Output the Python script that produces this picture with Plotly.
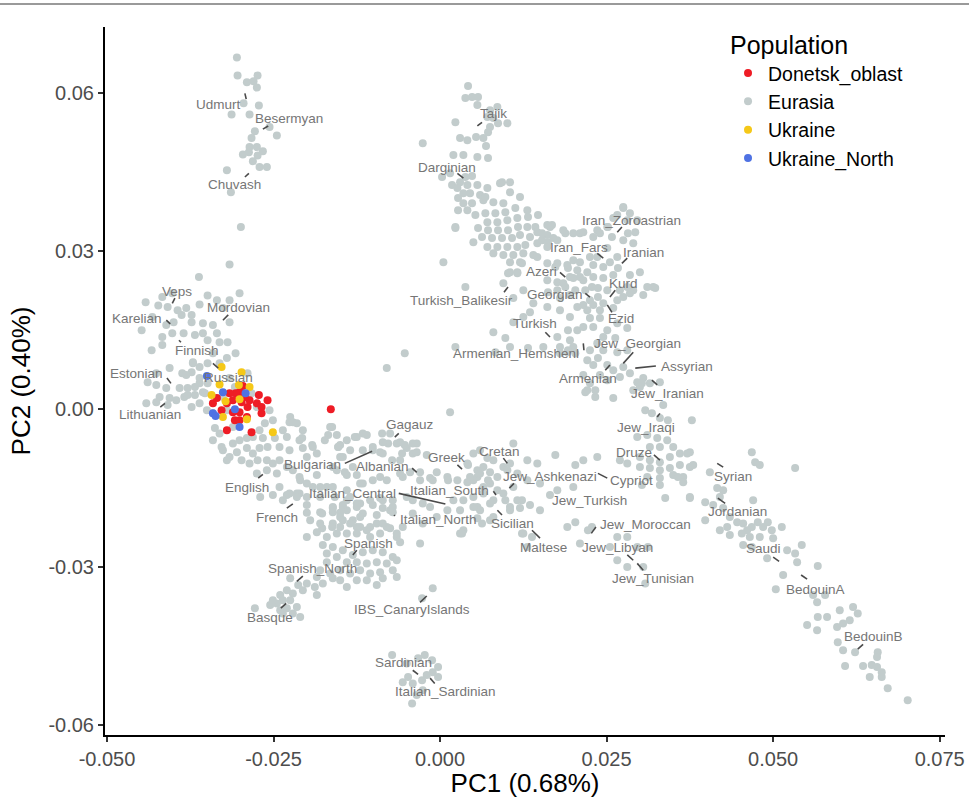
import plotly.graph_objects as go

# ---------------- data (PC1, PC2) ----------------
volga_uralic = [(-0.0305,0.0668),(-0.0304,0.0634),(-0.0290,0.0621),(-0.0280,0.0623),(-0.0274,0.0634),(-0.0275,0.0611),
    (-0.0295,0.0581),(-0.0313,0.0560),(-0.0286,0.0560),(-0.0272,0.0577),(-0.0278,0.0528),(-0.0256,0.0536),(-0.0245,0.0520),
    (-0.0283,0.0515),(-0.0286,0.0498),(-0.0275,0.0498),(-0.0266,0.0490),(-0.0296,0.0484),(-0.0287,0.0488),(-0.0274,0.0482),
    (-0.0281,0.0471),(-0.0271,0.0460),(-0.0260,0.0460),(-0.0320,0.0454),(-0.0314,0.0412),(-0.0299,0.0346),(-0.0316,0.0275),
    (-0.0362,0.0251)]

northeast_europe = [(-0.0442,0.0203),(-0.0423,0.0197),(-0.0417,0.0213),(-0.0402,0.0220),(-0.0409,0.0194),(-0.0394,0.0188),
    (-0.0381,0.0192),(-0.0373,0.0179),(-0.0361,0.0199),(-0.0349,0.0216),(-0.0335,0.0207),(-0.0326,0.0192),(-0.0301,0.0220),
    (-0.0316,0.0207),(-0.0432,0.0175),(-0.0411,0.0160),(-0.0400,0.0165),(-0.0388,0.0179),(-0.0373,0.0165),(-0.0356,0.0163),
    (-0.0341,0.0160),(-0.0316,0.0165),(-0.0448,0.0150),(-0.0433,0.0112),(-0.0417,0.0137),(-0.0417,0.0122),(-0.0402,0.0144),
    (-0.0385,0.0144),(-0.0368,0.0141),(-0.0356,0.0144),(-0.0349,0.0131),(-0.0335,0.0144),(-0.0331,0.0127),(-0.0319,0.0127),
    (-0.0307,0.0106),(-0.0320,0.0097),(-0.0341,0.0106),(-0.0371,0.0089),(-0.0361,0.0080),(-0.0373,0.0070),(-0.0387,0.0068),
    (-0.0406,0.0078),(-0.0426,0.0068),(-0.0439,0.0051),(-0.0426,0.0046),(-0.0411,0.0040),(-0.0391,0.0040),(-0.0379,0.0040),
    (-0.0361,0.0059),(-0.0349,0.0049),(-0.0356,0.0032),(-0.0368,0.0027),(-0.0421,0.0023),(-0.0406,0.0021),(-0.0396,0.0017),
    (-0.0384,0.0023),(-0.0441,0.0011),(-0.0426,0.0013),(-0.0409,0.0008),(-0.0349,0.0087),(-0.0331,0.0087)]

scattered = [(-0.0080,0.0078),(-0.0053,0.0106),(0.0005,0.0279),(0.0023,0.0344),(0.0038,0.0232),(0.0023,0.0118),(0.0015,-0.0006)]

east_central_europe = [(-0.0371,0.0087),(-0.0381,0.0065),(-0.0368,0.0042),(-0.0361,0.0049),(-0.0353,0.0030),(-0.0379,0.0027),
    (-0.0361,0.0011),(-0.0373,0.0004),(-0.0350,-0.0002),(-0.0341,-0.0008),(-0.0320,-0.0002),(-0.0326,0.0023),(-0.0308,0.0042),
    (-0.0316,0.0059),(-0.0289,0.0068),(-0.0283,0.0030),(-0.0275,0.0004),(-0.0256,-0.0002),(-0.0251,-0.0021),(-0.0263,-0.0027),
    (-0.0271,-0.0040),(-0.0281,-0.0053),(-0.0290,-0.0055),(-0.0311,-0.0034),(-0.0331,-0.0046),(-0.0338,-0.0036),(-0.0326,-0.0078),
    (-0.0311,-0.0065),(-0.0301,-0.0059),(-0.0266,-0.0055),(-0.0259,-0.0072),(-0.0248,-0.0055),(-0.0236,-0.0040),(-0.0226,-0.0025),
    (-0.0215,-0.0027),(-0.0230,-0.0053),(-0.0241,-0.0072),(-0.0226,-0.0078),(-0.0211,-0.0059),(-0.0206,-0.0074),(-0.0191,-0.0072),
    (-0.0200,-0.0091),(-0.0185,-0.0084),(-0.0168,-0.0049),(-0.0162,-0.0034),(-0.0153,-0.0072),(-0.0146,-0.0091),(-0.0316,-0.0091),
    (-0.0305,-0.0082),(-0.0290,-0.0074),(-0.0281,-0.0084),(-0.0271,-0.0074),(-0.0298,-0.0097),(-0.0286,-0.0103),(-0.0274,-0.0097),
    (-0.0260,-0.0097),(-0.0251,-0.0103),(-0.0241,-0.0097),(-0.0230,-0.0110),(-0.0245,-0.0122),(-0.0221,-0.0116),(-0.0211,-0.0129),
    (-0.0200,-0.0141),(-0.0241,-0.0148),(-0.0226,-0.0160),(-0.0211,-0.0160),(-0.0191,-0.0148),(-0.0180,-0.0167),(-0.0260,-0.0116),
    (-0.0275,-0.0122),(-0.0320,-0.0097),(-0.0328,-0.0072),(-0.0341,-0.0059),(-0.0161,-0.0186),(-0.0150,-0.0197),(-0.0180,-0.0196),
    (-0.0200,-0.0197),(-0.0140,-0.0173),(-0.0158,-0.0167),(-0.0170,-0.0148)]

balkans_italy = [(-0.0128,-0.0053),(-0.0116,-0.0046),(-0.0087,-0.0046),(-0.0078,-0.0065),(-0.0086,-0.0084),(-0.0060,-0.0063),
    (-0.0050,-0.0074),(-0.0035,-0.0065),(-0.0041,-0.0084),(-0.0020,-0.0087),(-0.0057,-0.0084),(-0.0072,-0.0097),(-0.0101,-0.0078),
    (-0.0135,-0.0078),(-0.0150,-0.0068),(-0.0150,-0.0091),(-0.0143,-0.0120),(-0.0155,-0.0116),(-0.0125,-0.0125),(-0.0116,-0.0141),
    (-0.0090,-0.0129),(-0.0056,-0.0129),(-0.0045,-0.0120),(-0.0030,-0.0120),(-0.0015,-0.0131),(-0.0005,-0.0120),(0.0011,-0.0129),
    (0.0026,-0.0135),(0.0041,-0.0139),(0.0056,-0.0129),(0.0065,-0.0110),(0.0071,-0.0093),(0.0060,-0.0078),(0.0050,-0.0084),
    (0.0042,-0.0106),(0.0056,-0.0116),(0.0075,-0.0120),(0.0086,-0.0129),(0.0095,-0.0110),(0.0110,-0.0065),(0.0105,-0.0103),
    (0.0116,-0.0122),(0.0131,-0.0097),(0.0075,-0.0141),(0.0065,-0.0160),(0.0050,-0.0167),(0.0035,-0.0173),(0.0020,-0.0173),
    (0.0011,-0.0192),(-0.0015,-0.0186),(-0.0026,-0.0179),(-0.0041,-0.0173),(-0.0050,-0.0167),(-0.0071,-0.0173),(-0.0090,-0.0169),
    (-0.0105,-0.0173),(-0.0120,-0.0179),(-0.0135,-0.0167),(-0.0146,-0.0186),(-0.0116,-0.0198),(-0.0075,-0.0192),(-0.0041,-0.0198),
    (-0.0005,-0.0205),(0.0030,-0.0192),(0.0056,-0.0186),(0.0080,-0.0173),(0.0095,-0.0160),(0.0105,-0.0186),(0.0123,-0.0173),
    (0.0056,-0.0207),(0.0075,-0.0211),(0.0035,-0.0230),(-0.0030,-0.0255),(-0.0065,-0.0243),(-0.0080,-0.0224),(-0.0095,-0.0217),
    (-0.0110,-0.0230),(-0.0125,-0.0224),(0.0123,-0.0236),(0.0131,-0.0262),(0.0065,-0.0148),
    (-0.0225,-0.0015),(-0.0221,-0.0025),(-0.0206,-0.0040),(-0.0207,-0.0055),(-0.0192,-0.0068),(-0.0173,-0.0059),(-0.0165,-0.0034),
    (-0.0155,-0.0049),(-0.0153,-0.0072),(-0.0140,-0.0059),(-0.0125,-0.0053),(-0.0110,-0.0049),(-0.0116,-0.0078),(-0.0101,-0.0072),
    (-0.0086,-0.0063),(-0.0090,-0.0082),(-0.0075,-0.0046),(-0.0065,-0.0065),(-0.0053,-0.0068),(-0.0041,-0.0065),(-0.0035,-0.0082),
    (-0.0060,-0.0097),(-0.0131,-0.0110),(-0.0140,-0.0125),(-0.0161,-0.0110),(-0.0185,-0.0125),(-0.0210,-0.0135),(-0.0215,-0.0160),
    (-0.0230,-0.0163),(-0.0200,-0.0167),(-0.0180,-0.0148),(-0.0161,-0.0148),(-0.0140,-0.0154),(-0.0120,-0.0141),(-0.0101,-0.0135),
    (-0.0080,-0.0135),(-0.0060,-0.0122),(-0.0030,-0.0135),(-0.0011,-0.0135),(0.0012,-0.0135),(-0.0086,-0.0173),(-0.0125,-0.0179),
    (-0.0140,-0.0192),(-0.0161,-0.0196),(-0.0195,-0.0211),(-0.0177,-0.0226),(-0.0161,-0.0217),(-0.0146,-0.0211),(-0.0131,-0.0211),
    (-0.0120,-0.0224),(-0.0071,-0.0196),(-0.0056,-0.0224),(0.0030,-0.0236),(-0.0026,-0.0217)]

iberia = [(-0.0270,-0.0167),(-0.0251,-0.0163),(-0.0236,-0.0173),(-0.0215,-0.0167),(-0.0200,-0.0182),(-0.0177,-0.0198),
    (-0.0161,-0.0188),(-0.0146,-0.0182),(-0.0125,-0.0186),(-0.0101,-0.0182),(-0.0086,-0.0188),(-0.0071,-0.0186),(-0.0095,-0.0201),
    (-0.0120,-0.0205),(-0.0150,-0.0205),(-0.0180,-0.0217),(-0.0185,-0.0234),(-0.0200,-0.0243),(-0.0162,-0.0224),(-0.0150,-0.0224),
    (-0.0135,-0.0217),(-0.0105,-0.0224),(-0.0086,-0.0217),(-0.0075,-0.0226),(-0.0065,-0.0236),(-0.0060,-0.0253),(-0.0090,-0.0236),
    (-0.0105,-0.0243),(-0.0125,-0.0236),(-0.0140,-0.0236),(-0.0155,-0.0236),(-0.0170,-0.0243),(-0.0176,-0.0258),(-0.0161,-0.0262),
    (-0.0146,-0.0268),(-0.0131,-0.0277),(-0.0116,-0.0272),(-0.0101,-0.0268),(-0.0086,-0.0272),(-0.0071,-0.0281),(-0.0080,-0.0293),
    (-0.0095,-0.0291),(-0.0110,-0.0293),(-0.0125,-0.0291),(-0.0140,-0.0291),(-0.0155,-0.0281),(-0.0170,-0.0274),(-0.0170,-0.0291),
    (-0.0180,-0.0306),(-0.0165,-0.0312),(-0.0150,-0.0306),(-0.0135,-0.0312),(-0.0120,-0.0306),(-0.0105,-0.0312),(-0.0090,-0.0310),
    (-0.0071,-0.0306),(-0.0065,-0.0319),(-0.0086,-0.0321),(-0.0095,-0.0334),(-0.0110,-0.0325),(-0.0125,-0.0325),(-0.0140,-0.0338),
    (-0.0150,-0.0325),(-0.0161,-0.0321),(-0.0185,-0.0319),(-0.0188,-0.0338),(-0.0185,-0.0353),(-0.0176,-0.0331),(-0.0200,-0.0331),
    (-0.0206,-0.0344),(-0.0213,-0.0334),(-0.0225,-0.0321),(-0.0230,-0.0344),(-0.0221,-0.0350),(-0.0240,-0.0353),(-0.0236,-0.0363),
    (-0.0245,-0.0369),(-0.0225,-0.0363),(-0.0215,-0.0376),(-0.0221,-0.0388),(-0.0230,-0.0378),(-0.0240,-0.0382),(-0.0251,-0.0363),
    (-0.0255,-0.0372),(-0.0278,-0.0378),(-0.0210,-0.0395),(-0.0236,-0.0388),(-0.0011,-0.0340),(-0.0027,-0.0359),(-0.0065,-0.0287)]

sardinia = [(-0.0072,-0.0467),(-0.0050,-0.0483),(-0.0033,-0.0473),(-0.0023,-0.0467),(-0.0012,-0.0477),(-0.0003,-0.0490),
    (-0.0011,-0.0500),(-0.0020,-0.0505),(-0.0027,-0.0515),(-0.0041,-0.0521),(-0.0056,-0.0519),(-0.0048,-0.0509),(-0.0026,-0.0534),
    (-0.0035,-0.0543),(-0.0042,-0.0559),(-0.0003,-0.0509)]

caucasus_central_asia = [(0.0042,0.0614),(0.0038,0.0591),(0.0048,0.0593),(0.0057,0.0593),(0.0056,0.0578),(0.0086,0.0574),
    (0.0075,0.0568),(0.0071,0.0555),(0.0080,0.0553),(0.0087,0.0543),(0.0101,0.0543),(0.0075,0.0536),(0.0072,0.0526),(0.0023,0.0545),
    (0.0030,0.0515),(0.0041,0.0511),(0.0054,0.0517),(0.0065,0.0515),(0.0069,0.0500),(0.0056,0.0479),(0.0072,0.0477),(-0.0026,0.0505),
    (0.0020,0.0483),(0.0035,0.0483),(0.0003,0.0441),(0.0015,0.0448),(0.0038,0.0441),(0.0048,0.0443),(0.0030,0.0431),(0.0018,0.0426),
    (0.0026,0.0420),(0.0041,0.0426),(0.0056,0.0426),(0.0071,0.0420),(0.0035,0.0410),(0.0045,0.0410),(0.0060,0.0407),(0.0093,0.0431),
    (0.0105,0.0431),(0.0105,0.0412),(0.0120,0.0403),(0.0027,0.0401),(0.0035,0.0391),(0.0048,0.0391),(0.0065,0.0397),(0.0080,0.0393),
    (0.0095,0.0391),(0.0027,0.0378),(0.0041,0.0378),(0.0053,0.0369),(0.0068,0.0372),(0.0083,0.0372),(0.0098,0.0374),(0.0113,0.0382),
    (0.0131,0.0378),(0.0071,0.0355),(0.0086,0.0355),(0.0101,0.0359),(0.0116,0.0363),(0.0132,0.0365),(0.0147,0.0369),(0.0057,0.0344),
    (0.0072,0.0340),(0.0087,0.0340),(0.0102,0.0340),(0.0117,0.0346),(0.0131,0.0346),(0.0143,0.0346),(0.0063,0.0327),(0.0078,0.0325),
    (0.0093,0.0325),(0.0108,0.0325),(0.0120,0.0331),(0.0135,0.0327),(0.0146,0.0336),(0.0161,0.0331),(0.0168,0.0350),(0.0071,0.0308),
    (0.0086,0.0308),(0.0101,0.0308),(0.0116,0.0308),(0.0128,0.0312),(0.0146,0.0315),(0.0162,0.0317),(0.0080,0.0296),(0.0095,0.0293),
    (0.0110,0.0293),(0.0125,0.0296),(0.0140,0.0293),(0.0105,0.0279),(0.0120,0.0279),(0.0050,0.0317),(0.0023,0.0346),(0.0105,0.0260),
    (0.0116,0.0260),(0.0095,0.0239),(0.0176,0.0277),(0.0090,0.0429),(0.0068,0.0403),(0.0165,0.0346),(0.0153,0.0321),(0.0161,0.0308),
    (0.0176,0.0321),(0.0188,0.0334),(0.0210,0.0334),(0.0236,0.0340),(0.0251,0.0346),(0.0260,0.0363),(0.0275,0.0384),(0.0285,0.0372),
    (0.0296,0.0359),(0.0282,0.0334)]

iran_anatolia = [(0.0275,0.0382),(0.0266,0.0369),(0.0281,0.0359),(0.0293,0.0336),(0.0252,0.0346),(0.0240,0.0334),(0.0258,0.0327),
    (0.0275,0.0321),(0.0290,0.0315),(0.0161,0.0350),(0.0153,0.0334),(0.0170,0.0325),(0.0185,0.0340),(0.0200,0.0334),(0.0215,0.0336),
    (0.0230,0.0327),(0.0251,0.0306),(0.0266,0.0289),(0.0255,0.0279),(0.0267,0.0268),(0.0245,0.0270),(0.0230,0.0274),(0.0221,0.0260),
    (0.0206,0.0264),(0.0192,0.0268),(0.0210,0.0279),(0.0225,0.0289),(0.0236,0.0289),(0.0200,0.0249),(0.0215,0.0245),(0.0230,0.0251),
    (0.0245,0.0249),(0.0260,0.0255),(0.0285,0.0255),(0.0300,0.0260),(0.0311,0.0232),(0.0323,0.0230),(0.0290,0.0226),(0.0281,0.0232),
    (0.0270,0.0226),(0.0251,0.0226),(0.0237,0.0230),(0.0228,0.0232),(0.0218,0.0226),(0.0203,0.0226),(0.0188,0.0232),(0.0176,0.0241),
    (0.0161,0.0245),(0.0237,0.0213),(0.0225,0.0207),(0.0215,0.0198),(0.0230,0.0198),(0.0245,0.0201),(0.0266,0.0207),(0.0275,0.0213),
    (0.0285,0.0220),(0.0260,0.0192),(0.0240,0.0188),(0.0221,0.0188),(0.0225,0.0173),(0.0240,0.0173),(0.0230,0.0156),(0.0251,0.0150),
    (0.0266,0.0163),(0.0281,0.0154),(0.0245,0.0137),(0.0263,0.0135),(0.0236,0.0125),(0.0206,0.0150),(0.0215,0.0156),(0.0195,0.0131),
    (0.0180,0.0118),(0.0191,0.0108),(0.0200,0.0118),(0.0225,0.0112),(0.0245,0.0112),(0.0266,0.0108),(0.0281,0.0112),(0.0237,0.0097),
    (0.0230,0.0084),(0.0251,0.0084),(0.0260,0.0074),(0.0275,0.0080),(0.0285,0.0068),(0.0270,0.0061),(0.0251,0.0055),(0.0240,0.0065),
    (0.0296,0.0051),(0.0305,0.0059),(0.0315,0.0049),(0.0330,0.0051),(0.0221,0.0036),(0.0233,0.0023),(0.0260,0.0021),(0.0300,0.0042),
    (0.0192,0.0112),(0.0162,0.0222),(0.0180,0.0211),(0.0195,0.0217),(0.0305,0.0217),(0.0320,0.0232),
    (0.0080,0.0146),(0.0098,0.0135),(0.0110,0.0165),(0.0135,0.0184),(0.0125,0.0175),(0.0195,0.0175),(0.0192,0.0150),(0.0083,0.0108),
    (0.0105,0.0118),(0.0132,0.0116),(0.0155,0.0118),(0.0176,0.0137),(0.0180,0.0106),(0.0203,0.0106),(0.0221,0.0093),(0.0215,0.0065),
    (0.0225,0.0049),(0.0102,0.0258),(0.0116,0.0258),(0.0123,0.0277),(0.0146,0.0289),(0.0161,0.0277),(0.0173,0.0270),(0.0191,0.0274),
    (0.0200,0.0283),(0.0210,0.0251),(0.0195,0.0251),(0.0185,0.0239),(0.0176,0.0226),(0.0125,0.0226),(0.0110,0.0211),(0.0140,0.0201),
    (0.0161,0.0194),(0.0180,0.0188),(0.0206,0.0194)]

levant_mediterranean = [(0.0218,0.0032),(0.0233,0.0036),(0.0290,0.0036),(0.0303,0.0049),(0.0335,0.0008),(0.0308,-0.0002),
    (0.0318,-0.0008),(0.0330,-0.0017),(0.0342,-0.0021),(0.0378,-0.0021),(0.0296,-0.0053),(0.0311,-0.0049),(0.0326,-0.0055),
    (0.0341,-0.0059),(0.0350,-0.0072),(0.0330,-0.0072),(0.0315,-0.0072),(0.0300,-0.0091),(0.0315,-0.0097),(0.0330,-0.0101),
    (0.0345,-0.0091),(0.0360,-0.0084),(0.0375,-0.0082),(0.0300,-0.0110),(0.0315,-0.0112),(0.0330,-0.0116),(0.0345,-0.0112),
    (0.0360,-0.0106),(0.0375,-0.0110),(0.0311,-0.0129),(0.0330,-0.0131),(0.0350,-0.0125),(0.0365,-0.0129),(0.0330,-0.0144),
    (0.0303,-0.0144),(0.0338,-0.0169),(0.0375,-0.0169),(0.0281,-0.0103),(0.0270,-0.0097),(0.0236,-0.0091),(0.0215,-0.0097),
    (0.0203,-0.0106),(0.0173,-0.0087),(0.0146,-0.0103),(0.0080,-0.0097),(0.0101,-0.0116),(0.0060,-0.0122),(0.0050,-0.0135),
    (0.0072,-0.0135),(0.0086,-0.0154),(0.0110,-0.0148),(0.0131,-0.0135),(0.0150,-0.0141),(0.0176,-0.0154),(0.0200,-0.0148),
    (0.0165,-0.0163),(0.0116,-0.0173),(0.0098,-0.0173),(0.0075,-0.0179),(0.0060,-0.0192),(0.0050,-0.0186),(0.0105,-0.0192),
    (0.0120,-0.0188),(0.0135,-0.0182),(0.0150,-0.0192),(0.0080,-0.0205),(0.0063,-0.0217),(0.0033,-0.0236),(0.0125,-0.0236),
    (0.0138,-0.0243),(0.0191,-0.0224),(0.0203,-0.0215),(0.0222,-0.0230),(0.0228,-0.0224),(0.0266,-0.0243),(0.0281,-0.0243),
    (0.0210,-0.0255),(0.0255,-0.0262),(0.0296,-0.0262),(0.0312,-0.0262),(0.0266,-0.0287),(0.0281,-0.0300),(0.0305,-0.0300),
    (0.0308,-0.0331),(0.0045,-0.0129),(0.0041,-0.0103)]

arabia = [(0.0371,-0.0084),(0.0380,-0.0106),(0.0365,-0.0139),(0.0375,-0.0167),(0.0398,-0.0177),(0.0398,-0.0211),(0.0405,-0.0120),
    (0.0416,-0.0150),(0.0425,-0.0154),(0.0420,-0.0167),(0.0410,-0.0182),(0.0425,-0.0188),(0.0435,-0.0205),(0.0431,-0.0224),
    (0.0420,-0.0230),(0.0435,-0.0239),(0.0446,-0.0215),(0.0455,-0.0217),(0.0461,-0.0230),(0.0468,-0.0224),(0.0453,-0.0236),
    (0.0465,-0.0243),(0.0477,-0.0215),(0.0492,-0.0215),(0.0485,-0.0224),(0.0498,-0.0230),(0.0513,-0.0224),(0.0480,-0.0243),
    (0.0500,-0.0245),(0.0455,-0.0258),(0.0468,-0.0262),(0.0491,-0.0283),(0.0521,-0.0268),(0.0533,-0.0274),(0.0543,-0.0258),
    (0.0536,-0.0291),(0.0567,-0.0298),(0.0515,-0.0315),(0.0504,-0.0342),(0.0560,-0.0353),(0.0566,-0.0367),(0.0578,-0.0353),
    (0.0567,-0.0395),(0.0581,-0.0395),(0.0600,-0.0382),(0.0620,-0.0376),(0.0627,-0.0388),(0.0551,-0.0410),(0.0566,-0.0420),
    (0.0596,-0.0414),(0.0605,-0.0407),(0.0615,-0.0401),(0.0597,-0.0443),(0.0605,-0.0458),(0.0623,-0.0462),(0.0657,-0.0462),
    (0.0656,-0.0471),(0.0608,-0.0488),(0.0635,-0.0488),(0.0648,-0.0486),(0.0656,-0.0490),(0.0663,-0.0500),(0.0663,-0.0509),
    (0.0645,-0.0509),(0.0672,-0.0530),(0.0702,-0.0553),(0.0468,-0.0082),(0.0473,-0.0101),(0.0480,-0.0106),(0.0533,-0.0112),
    (0.0470,-0.0173),(0.0357,-0.0129)]

eurasia_groups = [volga_uralic, northeast_europe, scattered, east_central_europe, balkans_italy, iberia, sardinia,
                  caucasus_central_asia, iran_anatolia, levant_mediterranean, arabia]

donetsk_oblast = [(-0.0296,0.0044),(-0.0301,0.0032),(-0.0307,0.0030),(-0.0272,0.0027),(-0.0259,0.0017),(-0.0275,0.0011),
    (-0.0268,0.0004),(-0.0289,0.0004),(-0.0298,0.0013),(-0.0311,0.0017),(-0.0320,0.0011),(-0.0341,0.0011),(-0.0335,0.0021),
    (-0.0311,-0.0006),(-0.0301,-0.0006),(-0.0268,-0.0008),(-0.0308,-0.0021),(-0.0301,-0.0021),(-0.0320,-0.0040),(-0.0283,-0.0044),
    (-0.0290,-0.0015),(-0.0164,0.0000),(-0.0316,0.0030),(-0.0293,0.0023),(-0.0286,0.0017),(-0.0328,-0.0002)]
ukraine = [(-0.0328,0.0080),(-0.0298,0.0070),(-0.0331,0.0047),(-0.0302,0.0046),(-0.0286,0.0042),(-0.0343,0.0027),
    (-0.0322,0.0015),(-0.0290,-0.0019),(-0.0326,-0.0015),(-0.0251,-0.0044),(-0.0301,0.0019)]
ukraine_north = [(-0.0350,0.0063),(-0.0326,0.0032),(-0.0292,0.0030),(-0.0341,-0.0008),(-0.0337,-0.0013),(-0.0308,0.0000),
    (-0.0301,-0.0034)]

# population labels: name, label position, segment (x0, y0, x1, y1)
label_names = ["Udmurt","Besermyan","Chuvash","Veps","Karelian","Mordovian","Finnish","Estonian","Russian","Lithuanian",
    "Gagauz","Bulgarian","Albanian","Greek","Cretan","English","Italian_Central","Italian_South","Italian_North","French",
    "Spanish","Spanish_North","Basque","IBS_CanaryIslands","Sardinian","Italian_Sardinian","Sicilian","Maltese","Jew_Ashkenazi",
    "Cypriot","Jew_Turkish","Jew_Moroccan","Jew_Libyan","Jew_Tunisian","Druze","Jew_Iraqi","Jew_Iranian","Armenian","Assyrian",
    "Jew_Georgian","Armenian_Hemshenl","Turkish","Turkish_Balikesir","Georgian","Ezid","Kurd","Azeri","Iranian","Iran_Fars",
    "Iran_Zoroastrian","Tajik","Darginian","Syrian","Jordanian","Saudi","BedouinA","BedouinB"]
label_pc1 = [-0.0333,-0.0227,-0.0308,-0.0395,-0.0455,-0.0303,-0.0365,-0.0455,-0.0318,-0.0435,
    -0.0045,-0.0192,-0.0087,0.0010,0.0089,-0.0290,-0.0132,0.0014,-0.0003,-0.0245,
    -0.0108,-0.0192,-0.0255,-0.0042,-0.0055,0.0008,0.0108,0.0155,0.0165,
    0.0288,0.0224,0.0308,0.0267,0.0320,0.0291,0.0309,0.0342,0.0222,0.0371,
    0.0297,0.0114,0.0143,0.0032,0.0173,0.0272,0.0276,0.0153,0.0305,0.0209,
    0.0288,0.0080,0.0011,0.0440,0.0447,0.0486,0.0564,0.0650]
label_pc2 = [0.0579,0.0553,0.0426,0.0224,0.0173,0.0194,0.0112,0.0068,0.0061,-0.0011,
    -0.0030,-0.0106,-0.0108,-0.0091,-0.0080,-0.0148,-0.0160,-0.0154,-0.0209,-0.0205,
    -0.0255,-0.0302,-0.0395,-0.0380,-0.0481,-0.0536,-0.0217,-0.0262,-0.0127,
    -0.0135,-0.0173,-0.0219,-0.0262,-0.0321,-0.0082,-0.0034,0.0030,0.0059,0.0082,
    0.0125,0.0105,0.0162,0.0207,0.0217,0.0173,0.0239,0.0262,0.0298,0.0308,
    0.0359,0.0562,0.0460,-0.0127,-0.0194,-0.0264,-0.0342,-0.0431]
seg_x0 = [-0.0293,-0.0266,-0.0293,-0.0402,-0.0411,-0.0326,-0.0392,-0.0410,-0.0341,-0.0420,
    -0.0068,-0.0143,-0.0042,0.0026,0.0095,-0.0273,-0.0062,0.0080,-0.0069,-0.0230,
    -0.0131,-0.0215,-0.0239,-0.0030,-0.0041,-0.0015,0.0086,0.0138,0.0104,
    0.0237,None,0.0227,0.0281,0.0296,0.0321,0.0326,0.0318,0.0248,0.0293,
    0.0275,0.0215,0.0158,0.0096,0.0218,0.0251,0.0255,0.0180,0.0273,0.0236,
    0.0266,0.0056,0.0026,0.0416,0.0417,0.0500,0.0542,0.0627]
seg_y0 = [0.0600,0.0532,0.0441,0.0201,0.0169,0.0169,0.0131,0.0059,0.0087,0.0004,
    -0.0053,-0.0103,-0.0112,-0.0106,-0.0093,-0.0131,-0.0160,-0.0156,-0.0201,-0.0188,
    -0.0277,-0.0327,-0.0378,-0.0367,-0.0496,-0.0511,-0.0192,-0.0230,-0.0150,
    -0.0122,None,-0.0236,-0.0277,-0.0293,-0.0087,-0.0015,0.0055,0.0074,0.0078,
    0.0087,0.0125,0.0146,0.0222,0.0220,0.0198,0.0213,0.0260,0.0277,0.0296,
    0.0336,0.0538,0.0448,-0.0103,-0.0169,-0.0281,-0.0315,-0.0456]
seg_x1 = [-0.0291,-0.0258,-0.0287,-0.0398,-0.0405,-0.0318,-0.0389,-0.0404,-0.0333,-0.0413,
    -0.0062,-0.0102,-0.0035,0.0033,0.0101,-0.0266,0.0008,0.0084,-0.0068,-0.0221,
    -0.0125,-0.0206,-0.0231,-0.0020,-0.0033,-0.0008,0.0093,0.0150,0.0111,
    0.0251,None,0.0234,0.0290,0.0305,0.0330,0.0330,0.0326,0.0255,0.0324,
    0.0290,0.0216,0.0165,0.0102,0.0225,0.0258,0.0263,0.0188,0.0281,0.0245,
    0.0273,0.0063,0.0035,0.0425,0.0428,0.0509,0.0551,0.0635]
seg_y1 = [0.0589,0.0538,0.0448,0.0211,0.0162,0.0179,0.0127,0.0049,0.0078,0.0011,
    -0.0046,-0.0080,-0.0120,-0.0114,-0.0103,-0.0124,-0.0180,-0.0163,-0.0203,-0.0180,
    -0.0268,-0.0317,-0.0369,-0.0355,-0.0504,-0.0521,-0.0201,-0.0245,-0.0141,
    -0.0131,None,-0.0224,-0.0287,-0.0306,-0.0097,-0.0008,0.0046,0.0084,0.0082,
    0.0108,0.0112,0.0137,0.0232,0.0213,0.0184,0.0226,0.0251,0.0287,0.0287,
    0.0346,0.0545,0.0439,-0.0110,-0.0179,-0.0289,-0.0323,-0.0447]

x_ticks = [-0.050, -0.025, 0.000, 0.025, 0.050, 0.075]
x_tick_text = ["-0.050", "-0.025", "0.000", "0.025", "0.050", "0.075"]
y_ticks = [-0.06, -0.03, 0.00, 0.03, 0.06]
y_tick_text = ["-0.06", "-0.03", "0.00", "0.03", "0.06"]

# ---------------- figure ----------------
FONT = "Liberation Sans, Arial, sans-serif"
eur_x = [p[0] for g in eurasia_groups for p in g]
eur_y = [p[1] for g in eurasia_groups for p in g]

fig = go.Figure()
fig.add_trace(go.Scatter(x=eur_x, y=eur_y, mode="markers", name="Eurasia", legendrank=2,
                         marker=dict(color="#C2CCCC", size=8, line=dict(width=0))))
for name, pts, col, rank in [("Donetsk_oblast", donetsk_oblast, "#EE1C25", 1),
                             ("Ukraine", ukraine, "#F5C818", 3),
                             ("Ukraine_North", ukraine_north, "#4F72E3", 4)]:
    fig.add_trace(go.Scatter(x=[p[0] for p in pts], y=[p[1] for p in pts], mode="markers", name=name,
                             legendrank=rank, marker=dict(color=col, size=8, line=dict(width=0))))

sx, sy = [], []
for a, b, c, d in zip(seg_x0, seg_y0, seg_x1, seg_y1):
    if a is None:
        continue
    sx += [a, c, None]
    sy += [b, d, None]
fig.add_trace(go.Scatter(x=sx, y=sy, mode="lines", showlegend=False, hoverinfo="skip",
                         line=dict(color="#4A4A4A", width=1.6)))

for n, lx, ly in zip(label_names, label_pc1, label_pc2):
    fig.add_annotation(x=lx, y=ly, text=n, showarrow=False, xref="x", yref="y",
                       font=dict(family=FONT, size=13.5, color="#767676"))

fig.add_shape(type="rect", xref="paper", yref="paper", x0=-0.2, x1=1.1, y0=1.0311, y1=1.0340,
              fillcolor="#9A9A9A", line=dict(width=0), layer="above")

fig.update_layout(
    width=969, height=798,
    margin=dict(l=105, r=24, t=27, b=63),
    paper_bgcolor="white", plot_bgcolor="white",
    font=dict(family=FONT, color="#000000"),
    legend=dict(x=0.7417, y=1.008, xanchor="left", yanchor="top", bgcolor="rgba(0,0,0,0)",
                title=dict(text="Population", font=dict(size=25, color="#000000")),
                font=dict(size=19.5, color="#000000"), itemsizing="trace", tracegroupgap=0),
    xaxis=dict(range=[-0.0503, 0.0758], tickvals=x_ticks, ticktext=x_tick_text, showgrid=False, zeroline=False,
               showline=True, linecolor="#000000", linewidth=2, ticks="outside", ticklen=5, tickwidth=1.5,
               tickcolor="#333333", tickfont=dict(size=20, color="#4D4D4D"), automargin=False,
               title=dict(text="PC1 (0.68%)", font=dict(size=26, color="#000000"), standoff=4)),
    yaxis=dict(range=[-0.0619, 0.0726], tickvals=y_ticks, ticktext=y_tick_text, showgrid=False, zeroline=False,
               showline=True, linecolor="#000000", linewidth=2, ticks="outside", ticklen=5, tickwidth=1.5,
               tickcolor="#333333", tickfont=dict(size=20, color="#4D4D4D"), automargin=False,
               title=dict(text="PC2 (0.40%)", font=dict(size=26, color="#000000"), standoff=10)),
)

fig.write_html("out.html")
